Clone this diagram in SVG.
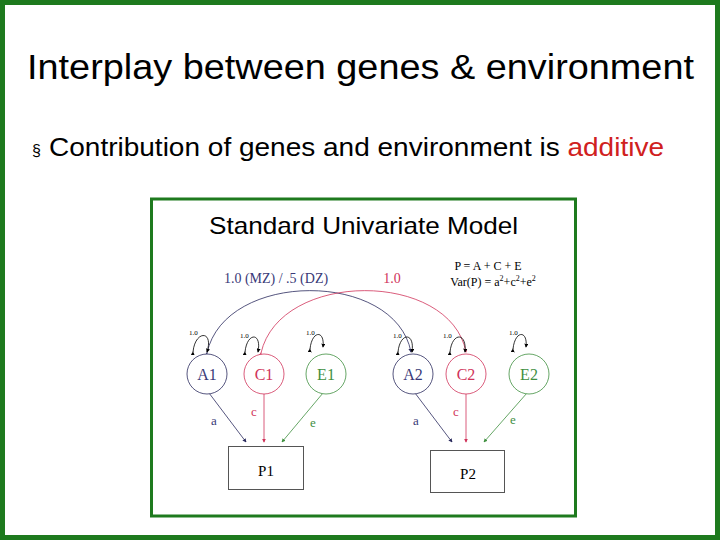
<svg xmlns="http://www.w3.org/2000/svg" width="720" height="540" viewBox="0 0 720 540">
<style>
.t{font-family:"Liberation Serif",serif}
.b{stroke:#2b2b5e;fill:none;stroke-width:0.8}
.r{stroke:#d0335a;fill:none;stroke-width:0.8}
.g{stroke:#3f8f3f;fill:none;stroke-width:0.8}
.k{stroke:#000;fill:none;stroke-width:0.8}
.c{fill:#fff;stroke-width:0.8}
.s{font-family:"Liberation Serif",serif;font-size:7px;fill:#000}
</style>
<defs>
<marker id="ak" viewBox="0 0 6 6" refX="5" refY="3" markerWidth="5" markerHeight="5" orient="auto"><path d="M0,0L6,3L0,6z" fill="#000"/></marker>
<marker id="ab" viewBox="0 0 6 6" refX="5" refY="3" markerWidth="5" markerHeight="5" orient="auto"><path d="M0,0L6,3L0,6z" fill="#2b2b5e"/></marker>
<marker id="ar" viewBox="0 0 6 6" refX="5" refY="3" markerWidth="5" markerHeight="5" orient="auto"><path d="M0,0L6,3L0,6z" fill="#d0335a"/></marker>
<marker id="ag" viewBox="0 0 6 6" refX="5" refY="3" markerWidth="5" markerHeight="5" orient="auto"><path d="M0,0L6,3L0,6z" fill="#3f8f3f"/></marker>
</defs>
<rect x="2.5" y="2.5" width="715" height="535" fill="#fff" stroke="#1e7a1e" stroke-width="5"/>
<text x="27" y="79" textLength="667" lengthAdjust="spacingAndGlyphs" font-family="Liberation Sans,Arial,sans-serif" font-size="35" fill="#000">Interplay between genes &amp; environment</text>
<text x="32" y="156" font-family="Liberation Sans,Arial,sans-serif" font-size="16" fill="#000">§</text>
<text x="49" y="156" textLength="615" lengthAdjust="spacingAndGlyphs" font-family="Liberation Sans,Arial,sans-serif" font-size="26" fill="#000">Contribution of genes and environment is <tspan fill="#d02020">additive</tspan></text>
<rect x="151.5" y="199" width="424" height="317" fill="#fff" stroke="#1e7a1e" stroke-width="3"/>
<text x="209" y="234" textLength="309" lengthAdjust="spacingAndGlyphs" font-family="Liberation Sans,Arial,sans-serif" font-size="24" fill="#000">Standard Univariate Model</text>
<text x="276" y="283" text-anchor="middle" class="t" font-size="14" fill="#3a3a78">1.0 (MZ) / .5 (DZ)</text>
<text x="392" y="283" text-anchor="middle" class="t" font-size="14" fill="#d0335a">1.0</text>
<text x="488" y="270" text-anchor="middle" class="t" font-size="12" fill="#000">P = A + C + E</text>
<text x="493" y="286" text-anchor="middle" class="t" font-size="12" fill="#000">Var(P) = a<tspan font-size="8" dy="-5">2</tspan><tspan dy="5">+c</tspan><tspan font-size="8" dy="-5">2</tspan><tspan dy="5">+e</tspan><tspan font-size="8" dy="-5">2</tspan></text>
<g id="connectors">
<path class="b" d="M207,353 C225,270 395,270 411,352" marker-start="url(#ab)" marker-end="url(#ab)"/>
<path class="r" d="M261,353 C280,270 450,270 466,352" marker-start="url(#ar)" marker-end="url(#ar)"/>
<path class="k" d="M193,352 C195,330 214,330 207,352" marker-start="url(#ak)" marker-end="url(#ak)"/>
<path class="k" d="M245,352 C247,332 262,332 258,352" marker-start="url(#ak)" marker-end="url(#ak)"/>
<path class="k" d="M310,349 C312,330 325,330 323,347" marker-start="url(#ak)" marker-end="url(#ak)"/>
<path class="k" d="M398,352 C400,332 415,332 412,352" marker-start="url(#ak)" marker-end="url(#ak)"/>
<path class="k" d="M450,352 C452,332 467,332 465,352" marker-start="url(#ak)" marker-end="url(#ak)"/>
<path class="k" d="M513,349 C515,330 528,330 526,347" marker-start="url(#ak)" marker-end="url(#ak)"/>
<line class="b" x1="209" y1="393" x2="246" y2="442" marker-end="url(#ab)"/>
<line class="r" x1="264" y1="394" x2="264" y2="442" marker-end="url(#ar)"/>
<line class="g" x1="323" y1="393" x2="282" y2="442" marker-end="url(#ag)"/>
<line class="b" x1="415" y1="393" x2="452" y2="442" marker-end="url(#ab)"/>
<line class="r" x1="466" y1="394" x2="466" y2="442" marker-end="url(#ar)"/>
<line class="g" x1="527" y1="393" x2="484" y2="442" marker-end="url(#ag)"/>
</g>
<text class="s" x="189" y="335">1.0</text><text class="s" x="240" y="338">1.0</text><text class="s" x="306" y="335">1.0</text>
<text class="s" x="393" y="338">1.0</text><text class="s" x="443" y="338">1.0</text><text class="s" x="509" y="335">1.0</text>
<g class="t" font-size="13">
<text x="214" y="425" text-anchor="middle" fill="#3a3a78">a</text>
<text x="254" y="416" text-anchor="middle" fill="#d0335a">c</text>
<text x="313" y="427" text-anchor="middle" fill="#3f8f3f">e</text>
<text x="416" y="425" text-anchor="middle" fill="#3a3a78">a</text>
<text x="456" y="416" text-anchor="middle" fill="#d0335a">c</text>
<text x="513" y="424" text-anchor="middle" fill="#3f8f3f">e</text>
</g>
<g id="A1"><circle class="c" cx="207" cy="374" r="20" stroke="#2b2b5e"/><text x="207" y="380" text-anchor="middle" class="t" font-size="16" fill="#3a3a78">A1</text></g>
<g id="C1"><circle class="c" cx="264" cy="374" r="20" stroke="#d0335a"/><text x="264" y="380" text-anchor="middle" class="t" font-size="16" fill="#d0335a">C1</text></g>
<g id="E1"><circle class="c" cx="326" cy="374" r="20" stroke="#3f8f3f"/><text x="326" y="380" text-anchor="middle" class="t" font-size="16" fill="#3f8f3f">E1</text></g>
<g id="A2"><circle class="c" cx="413" cy="374" r="20" stroke="#2b2b5e"/><text x="413" y="380" text-anchor="middle" class="t" font-size="16" fill="#3a3a78">A2</text></g>
<g id="C2"><circle class="c" cx="466" cy="374" r="20" stroke="#d0335a"/><text x="466" y="380" text-anchor="middle" class="t" font-size="16" fill="#d0335a">C2</text></g>
<g id="E2"><circle class="c" cx="529" cy="374" r="20" stroke="#3f8f3f"/><text x="529" y="380" text-anchor="middle" class="t" font-size="16" fill="#3f8f3f">E2</text></g>
<g id="P1"><rect x="228.5" y="446.5" width="75" height="43" fill="#fff" stroke="#555"/><text x="266" y="476" text-anchor="middle" class="t" font-size="15">P1</text></g>
<g id="P2"><rect x="430.5" y="450.5" width="74" height="42" fill="#fff" stroke="#555"/><text x="468" y="479" text-anchor="middle" class="t" font-size="15">P2</text></g>
</svg>
